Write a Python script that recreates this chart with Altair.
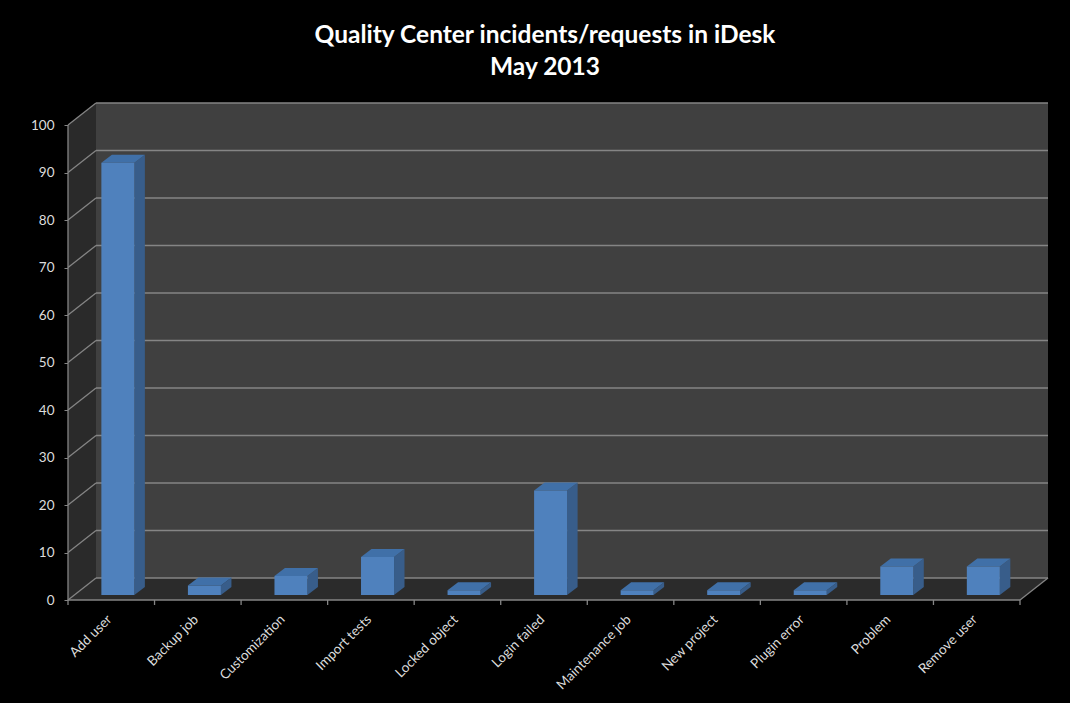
import altair as alt
import pandas as pd

categories = ["Add user", "Backup job", "Customization", "Import tests", "Locked object",
              "Login failed", "Maintenance job", "New project", "Plugin error", "Problem",
              "Remove user"]
counts = [91, 2, 4, 8, 1, 22, 1, 1, 1, 6, 6]
y_ticks = list(range(0, 101, 10))
title_lines = ["Quality Center incidents/requests in iDesk", "May 2013"]

N = len(categories)
W, H = 980, 497
PX_X = 952 / N
PX_Y = 475 / 100
XMAX = W / PX_X
YMAX = H / PX_Y
DXW = XMAX - N
DYW = YMAX - 100
BW = 33 / PX_X
D0X, D0Y = 6.6 / PX_X, 5 / PX_Y
BDX, BDY = 10.5 / PX_X, 8 / PX_Y

xs = alt.Scale(domain=[0, XMAX], nice=False, zero=False)
ys = alt.Scale(domain=[0, YMAX], nice=False, zero=False)

LABEL_COLOR = "#dcdcdc"
GRID = "#858585"

label_expr = "[" + ",".join("'" + c + "'" for c in categories) + "][floor(datum.value)]"

x_axis = alt.Axis(values=[i + 0.5 for i in range(N)], labelExpr=label_expr,
                  labelAngle=-45, labelAlign="right", labelBaseline="top",
                  labelPadding=12, labelOffset=-7, labelColor=LABEL_COLOR, labelFontSize=13.5,
                  ticks=False, domain=False, grid=False, title=None,
                  labelFont="Lato", labelOverlap=False)
y_axis = alt.Axis(values=y_ticks, domain=False, grid=False, tickSize=4,
                  tickColor=GRID, labelColor=LABEL_COLOR, labelFontSize=13.5,
                  labelPadding=10, title=None, labelFont="Lato")


def X(f="x"):
    return alt.X(f + ":Q", scale=xs, axis=x_axis)


def Y(f="y"):
    return alt.Y(f + ":Q", scale=ys, axis=y_axis)


back = alt.Chart(pd.DataFrame([{"x": DXW, "x2": N + DXW, "y": DYW, "y2": 100 + DYW}])).mark_rect(
    color="#404040").encode(x=X(), x2="x2:Q", y=Y(), y2="y2:Q")

left_wall = alt.Chart(pd.DataFrame([{"x": 0, "y": 0, "y2": 100}, {"x": DXW, "y": DYW, "y2": 100 + DYW}])).mark_area(
    orient="vertical", color="#2a2a2a").encode(x=X(), y=Y(), y2="y2:Q")

floor = alt.Chart(pd.DataFrame([{"y": 0, "x": 0, "x2": N}, {"y": DYW, "x": DXW, "x2": N + DXW}])).mark_area(
    orient="horizontal", color="#2b2b2b").encode(y=Y(), x=X(), x2="x2:Q")

lines = []
for t in y_ticks:
    lines.append({"x": DXW, "x2": N + DXW, "y": t + DYW, "y2": t + DYW})
    lines.append({"x": 0, "x2": DXW, "y": t, "y2": t + DYW})
lines.append({"x": 0, "x2": 0, "y": 0, "y2": 100})
lines.append({"x": 0, "x2": N, "y": 0, "y2": 0})
lines.append({"x": N, "x2": N + DXW, "y": 0, "y2": DYW})
for i in range(N + 1):
    lines.append({"x": i, "x2": i, "y": 0, "y2": -5 / PX_Y})
rules = alt.Chart(pd.DataFrame(lines)).mark_rule(color=GRID, strokeWidth=1.3).encode(
    x=X(), x2="x2:Q", y=Y(), y2="y2:Q")

fronts, tops, sides = [], [], []
for i, (c, v) in enumerate(zip(categories, counts)):
    xl = i + 0.5 - BW / 2 + D0X
    xr = xl + BW
    y0, y1 = D0Y, v + D0Y
    fronts.append({"cat": c, "x": xl, "x2": xr, "y": y0, "y2": y1})
    tops.append({"cat": c, "y": y1, "x": xl, "x2": xr})
    tops.append({"cat": c, "y": y1 + BDY, "x": xl + BDX, "x2": xr + BDX})
    sides.append({"cat": c, "x": xr, "y": y0, "y2": y1})
    sides.append({"cat": c, "x": xr + BDX, "y": y0 + BDY, "y2": y1 + BDY})

side = alt.Chart(pd.DataFrame(sides)).mark_area(orient="vertical", color="#385d8a").encode(
    x=X(), y=Y(), y2="y2:Q", detail="cat:N")
top = alt.Chart(pd.DataFrame(tops)).mark_area(orient="horizontal", color="#4070a8").encode(
    y=Y(), x=X(), x2="x2:Q", detail="cat:N")
front = alt.Chart(pd.DataFrame(fronts)).mark_rect(color="#4f81bd").encode(
    x=X(), x2="x2:Q", y=Y(), y2="y2:Q")

chart = alt.layer(back, left_wall, floor, rules, side, top, front).properties(
    width=W, height=H,
    autosize=alt.AutoSizeParams(type="none"),
    padding={"left": 68, "top": 103, "right": 22, "bottom": 103},
    title=alt.TitleParams(text=title_lines, fontSize=24.5, font="Lato", fontWeight="bold", color="white",
                          offset=22, dx=-13, lineHeight=32, anchor="middle"),
).configure(background="black").configure_view(stroke=None)

chart.save("out.html", embed_options={"renderer": "svg", "actions": False})
